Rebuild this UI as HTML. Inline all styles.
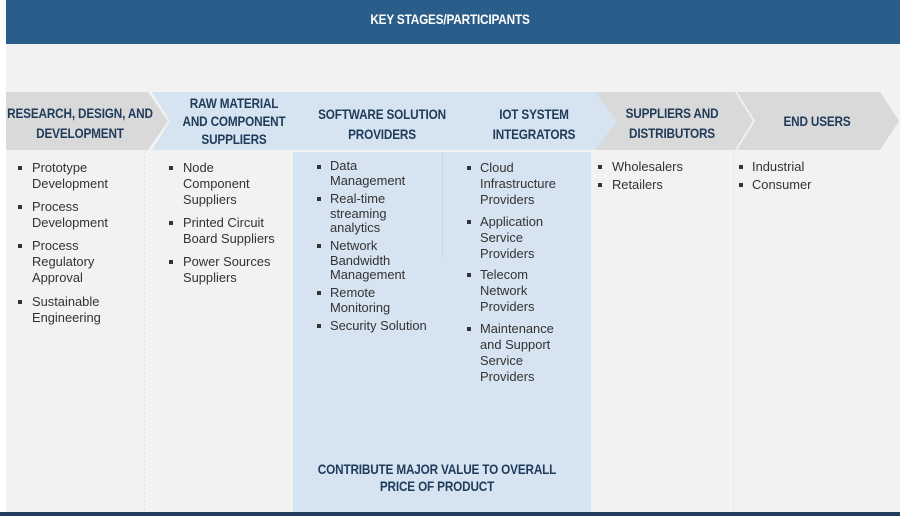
<!DOCTYPE html>
<html><head><meta charset="utf-8"><style>
*{margin:0;padding:0;box-sizing:border-box}
body{width:900px;height:516px;background:#fff;position:relative;overflow:hidden;font-family:"Liberation Sans",sans-serif}
.t{position:absolute;font-size:12.9px;line-height:16px;color:#333;white-space:nowrap}
.b{position:absolute;width:4px;height:4px;background:#333}
.h{position:absolute;font-size:14px;font-weight:bold;color:#1f3b5a;text-align:center;line-height:18px;transform:translateX(-50%) scaleX(0.84);white-space:nowrap;letter-spacing:-0.2px}
</style></head><body>
<div style="position:absolute;left:6px;top:0;width:894px;height:44px;background:#2b5d8a"></div>
<div style="position:absolute;left:0;width:900px;top:11px;text-align:center;color:#fff;font-weight:bold;font-size:14px;letter-spacing:-0.2px;transform:scaleX(0.84)">KEY STAGES/PARTICIPANTS</div>
<div style="position:absolute;left:6px;top:44px;width:894px;height:468px;background:#f2f2f2"></div>
<div style="position:absolute;left:293px;top:152px;width:298px;height:360px;background:#d6e3f1"></div>
<div style="position:absolute;left:0;top:512px;width:900px;height:4px;background:#1f3d5a"></div>
<svg width="900" height="516" style="position:absolute;left:0;top:0">
<polygon points="737,92 880,92 899,121 880,150 737,150 755,121" fill="#d9d9d9"/>
<polygon points="593,92 735,92 753,121 735,150 593,150 612,121" fill="#d9d9d9"/>
<polygon points="152,92 595,92 617,121 595,150 152,150 170,121" fill="#d6e3f1"/>
<polygon points="6,92 148,92 168,121 148,150 6,150" fill="#d9d9d9"/>
<line x1="144.5" y1="152" x2="144.5" y2="512" stroke="#e2e2e2" stroke-dasharray="2,2"/>
<line x1="442.5" y1="152" x2="442.5" y2="258" stroke="#c9d7e6"/>
<line x1="733.5" y1="152" x2="733.5" y2="512" stroke="#e2e2e2" stroke-dasharray="2,2"/>
</svg>
<div class="h" style="left:80px;top:103px;line-height:20px">RESEARCH, DESIGN, AND<br>DEVELOPMENT</div>
<div class="h" style="left:234px;top:94px">RAW MATERIAL<br>AND COMPONENT<br>SUPPLIERS</div>
<div class="h" style="left:382px;top:104px;line-height:20px">SOFTWARE SOLUTION<br>PROVIDERS</div>
<div class="h" style="left:534px;top:104px;line-height:20px">IOT SYSTEM<br>INTEGRATORS</div>
<div class="h" style="left:672px;top:103px;line-height:20px">SUPPLIERS AND<br>DISTRIBUTORS</div>
<div class="h" style="left:817px;top:112px">END USERS</div>

<div class="b" style="left:18px;top:166px"></div><div class="t" style="left:32px;top:160px">Prototype<br>Development</div>
<div class="b" style="left:18px;top:205px"></div><div class="t" style="left:32px;top:199px">Process<br>Development</div>
<div class="b" style="left:18px;top:244px"></div><div class="t" style="left:32px;top:238px">Process<br>Regulatory<br>Approval</div>
<div class="b" style="left:18px;top:300px"></div><div class="t" style="left:32px;top:294px">Sustainable<br>Engineering</div>

<div class="b" style="left:169px;top:166px"></div><div class="t" style="left:183px;top:160px">Node<br>Component<br>Suppliers</div>
<div class="b" style="left:169px;top:221px"></div><div class="t" style="left:183px;top:215px">Printed Circuit<br>Board Suppliers</div>
<div class="b" style="left:169px;top:260px"></div><div class="t" style="left:183px;top:254px">Power Sources<br>Suppliers</div>

<div class="b" style="left:317px;top:165px"></div><div class="t" style="left:330px;top:159px;line-height:14.7px">Data<br>Management</div>
<div class="b" style="left:317px;top:197px"></div><div class="t" style="left:330px;top:192px;line-height:14.7px">Real-time<br>streaming<br>analytics</div>
<div class="b" style="left:317px;top:244px"></div><div class="t" style="left:330px;top:239px;line-height:14.7px">Network<br>Bandwidth<br>Management</div>
<div class="b" style="left:317px;top:291px"></div><div class="t" style="left:330px;top:286px;line-height:14.7px">Remote<br>Monitoring</div>
<div class="b" style="left:317px;top:324px"></div><div class="t" style="left:330px;top:319px;line-height:14.7px">Security Solution</div>

<div class="b" style="left:467px;top:166px"></div><div class="t" style="left:480px;top:160px">Cloud<br>Infrastructure<br>Providers</div>
<div class="b" style="left:467px;top:220px"></div><div class="t" style="left:480px;top:214px">Application<br>Service<br>Providers</div>
<div class="b" style="left:467px;top:273px"></div><div class="t" style="left:480px;top:267px">Telecom<br>Network<br>Providers</div>
<div class="b" style="left:467px;top:327px"></div><div class="t" style="left:480px;top:321px">Maintenance<br>and Support<br>Service<br>Providers</div>

<div class="b" style="left:598px;top:165px"></div><div class="t" style="left:612px;top:159px">Wholesalers</div>
<div class="b" style="left:598px;top:183px"></div><div class="t" style="left:612px;top:177px">Retailers</div>
<div class="b" style="left:739px;top:165px"></div><div class="t" style="left:752px;top:159px">Industrial</div>
<div class="b" style="left:739px;top:183px"></div><div class="t" style="left:752px;top:177px">Consumer</div>

<div class="h" style="left:437px;top:461px;line-height:17px">CONTRIBUTE MAJOR VALUE TO OVERALL<br>PRICE OF PRODUCT</div>
</body></html>
